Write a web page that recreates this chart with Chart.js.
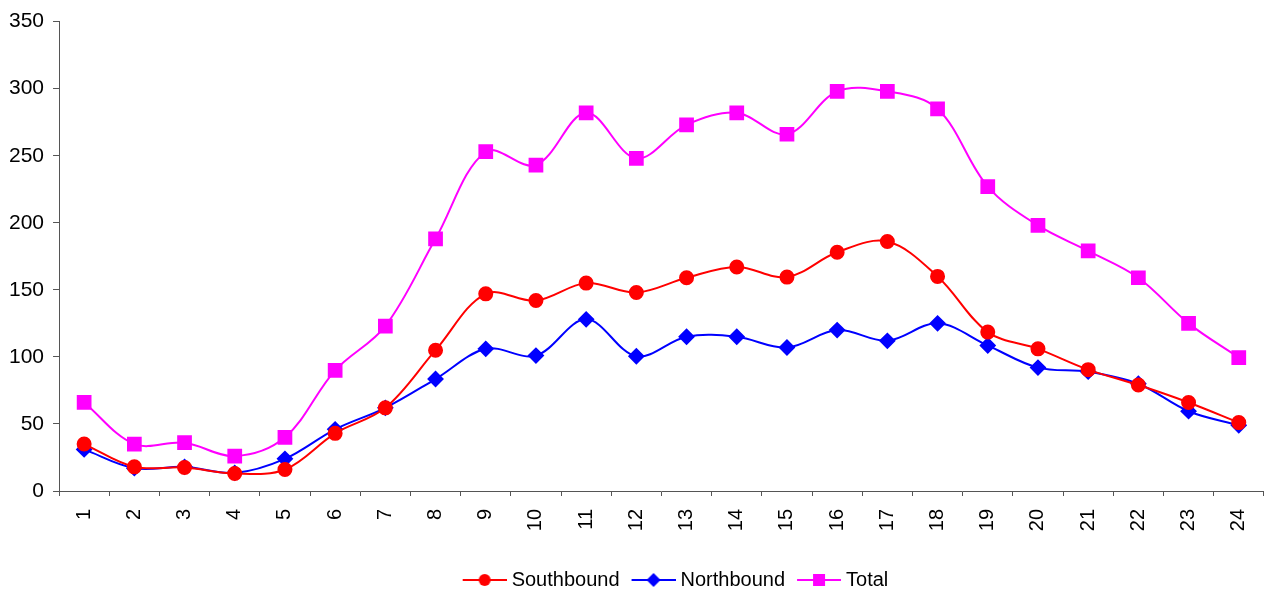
<!DOCTYPE html>
<html>
<head>
<meta charset="utf-8">
<script src="https://cdn.jsdelivr.net/npm/chart.js@4.4.0/dist/chart.umd.min.js"></script>
<style>
  html, body { margin: 0; padding: 0; background: #fff; overflow: hidden; }
  #wrap { width: 1276px; height: 592px; position: relative; }
</style>
</head>
<body>
<div id="wrap"><canvas id="lineChart"></canvas></div>
<script>
let hours = ['1','2','3','4','5','6','7','8','9','10','11','12','13','14','15','16','17','18','19','20','21','22','23','24'];
let southbound = [35, 18, 17.5, 13, 16, 43, 62, 105, 147, 142, 155, 148, 159, 167, 159.5, 178, 186, 160, 118.5, 106, 90.5, 79, 66, 51];
let northbound = [31, 17, 18, 13.5, 24, 46, 62, 83.5, 106, 101, 128, 100.5, 115, 115, 107, 120, 112, 125, 108.5, 92, 89, 80, 59.5, 49];
let total = [66, 35, 36, 26, 40, 90, 123, 188, 253, 243, 282, 248, 273, 282, 266, 298, 298, 285, 227, 198, 179, 159, 125, 99.5];
let yTicks = [0, 50, 100, 150, 200, 250, 300, 350];

Chart.defaults.font.family = "'Liberation Sans', Arial, sans-serif";
Chart.defaults.color = '#000';

// legend sample: line with the marker in the middle
// canvas is a bit wider than the legend box so the text sits close to the line
function legendIcon(color, style) {
  let c = document.createElement('canvas');
  c.width = 55; c.height = 16;
  let g = c.getContext('2d');
  g.strokeStyle = color; g.lineWidth = 2;
  g.beginPath(); g.moveTo(11, 8); g.lineTo(55, 8); g.stroke();
  g.fillStyle = color;
  g.beginPath();
  if (style == 'circle') g.arc(33, 8, 6, 0, Math.PI * 2);
  else if (style == 'rectRot') { g.moveTo(26, 8); g.lineTo(33, 1); g.lineTo(40, 8); g.lineTo(33, 15); g.closePath(); }
  else g.rect(27, 2, 12, 12);
  g.fill();
  return c;
}

// nudge the legend a little right and down, like the original
let legendShift = {
  id: 'legendShift',
  afterLayout: function (c) {
    let l = c.legend;
    l.left += 11; l.right += 11;
    l.top += 8; l.bottom += 8;
  }
};

let chart = document.getElementById('lineChart');
let lineChart = new Chart(chart, {
  type: 'line',
  plugins: [legendShift],
  data: {
    labels: hours,
    datasets: [
      {
        label: 'Southbound',
        data: southbound,
        borderColor: '#ff0000',
        backgroundColor: '#ff0000',
        borderWidth: 2,
        tension: 0.35,
        pointStyle: 'circle',
        pointRadius: 6.5,
        legendIcon: legendIcon('#ff0000', 'circle')
      },
      {
        label: 'Northbound',
        data: northbound,
        borderColor: '#0000ff',
        backgroundColor: '#0000ff',
        borderWidth: 2,
        tension: 0.35,
        pointStyle: 'rectRot',
        pointRadius: 7,
        legendIcon: legendIcon('#0000ff', 'rectRot')
      },
      {
        label: 'Total',
        data: total,
        borderColor: '#ff00ff',
        backgroundColor: '#ff00ff',
        borderWidth: 2,
        tension: 0.35,
        pointStyle: 'rect',
        pointRadius: 9,
        legendIcon: legendIcon('#ff00ff', 'rect')
      }
    ]
  },
  options: {
    responsive: true,
    maintainAspectRatio: false,
    animation: false,
    layout: { padding: { top: 1, right: 0, left: 0, bottom: 0 } },
    plugins: {
      tooltip: { enabled: false },
      legend: {
        position: 'bottom',
        fullSize: false,
        labels: {
          usePointStyle: true,
          pointStyleWidth: 45,
          padding: 6,
          font: { size: 20 },
          generateLabels: function (c) {
            return c.data.datasets.map(function (ds, i) {
              return { text: ds.label, pointStyle: ds.legendIcon, fillStyle: ds.borderColor, strokeStyle: ds.borderColor, lineWidth: 0, datasetIndex: i, hidden: false };
            });
          }
        }
      }
    },
    scales: {
      x: {
        offset: true,
        grid: { display: true, offset: true, drawOnChartArea: false, drawTicks: true, tickLength: 5, color: '#555' },
        border: { color: '#555', width: 1 },
        ticks: { minRotation: 90, maxRotation: 90, font: { size: 20 }, padding: 13 },
        afterFit: function (s) { s.height = 65; }
      },
      y: {
        min: 0,
        max: 350,
        afterBuildTicks: function (axis) { axis.ticks = yTicks.map(v => ({ value: v })); },
        grid: { display: true, drawOnChartArea: false, drawTicks: true, tickLength: 6, color: '#555' },
        border: { color: '#555', width: 1 },
        ticks: { font: { size: 21 }, padding: 9 }
      }
    }
  }
});
</script>
</body>
</html>
